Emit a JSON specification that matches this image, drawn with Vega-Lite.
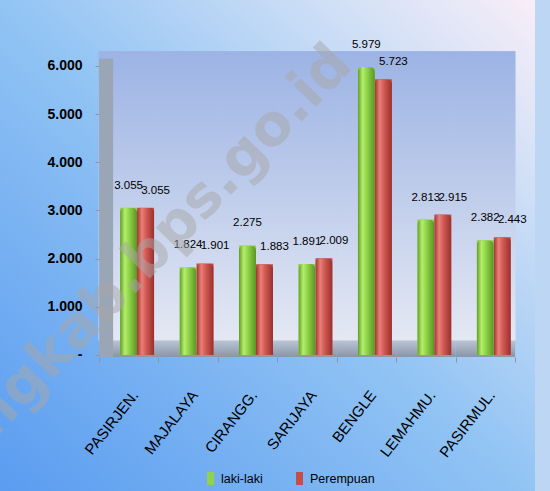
{
  "$schema": "https://vega.github.io/schema/vega-lite/v6.json",
  "width": 535,
  "height": 491,
  "autosize": "none",
  "padding": {"left": 0, "top": 0, "right": 15, "bottom": 0},
  "background": "#bcd6f4",
  "view": {
    "stroke": null,
    "fill": {"gradient": "linear", "x1": 0, "y1": 1, "x2": 1, "y2": 0,
      "stops": [
        {"offset": 0, "color": "#5a9cf0"},
        {"offset": 0.5, "color": "#92c4f4"},
        {"offset": 0.8, "color": "#cfdff6"},
        {"offset": 1, "color": "#f8eef8"}
      ]}
  },
  "config": {
    "locale": {"number": {"decimal": ",", "thousands": ".", "grouping": [3], "currency": ["", ""]}},
    "axis": {"labelColor": "#000000", "titleColor": "#000000"}
  },
  "data": {
    "values": [
      {"kec": "PASIRJEN.", "sex": "laki-laki", "v": 3055},
      {"kec": "PASIRJEN.", "sex": "Perempuan", "v": 3055},
      {"kec": "MAJALAYA", "sex": "laki-laki", "v": 1824},
      {"kec": "MAJALAYA", "sex": "Perempuan", "v": 1901},
      {"kec": "CIRANGG.", "sex": "laki-laki", "v": 2275},
      {"kec": "CIRANGG.", "sex": "Perempuan", "v": 1883},
      {"kec": "SARIJAYA", "sex": "laki-laki", "v": 1891},
      {"kec": "SARIJAYA", "sex": "Perempuan", "v": 2009},
      {"kec": "BENGLE", "sex": "laki-laki", "v": 5979},
      {"kec": "BENGLE", "sex": "Perempuan", "v": 5723},
      {"kec": "LEMAHMU.", "sex": "laki-laki", "v": 2813},
      {"kec": "LEMAHMU.", "sex": "Perempuan", "v": 2915},
      {"kec": "PASIRMUL.", "sex": "laki-laki", "v": 2382},
      {"kec": "PASIRMUL.", "sex": "Perempuan", "v": 2443}
    ]
  },
  "encoding": {
    "x": {
      "field": "kec", "type": "nominal", "sort": null,
      "scale": {
        "domain": ["PASIRJEN.", "MAJALAYA", "CIRANGG.", "SARIJAYA", "BENGLE", "LEMAHMU.", "PASIRMUL."],
        "paddingInner": 0, "paddingOuter": 1, "align": 0.8326
      },
      "axis": {
        "title": null, "offset": -134, "domain": false, "tickBand": "extent",
        "tickSize": 5, "tickColor": "#8c96a4", "labelAngle": -52,
        "labelAlign": "right", "labelBaseline": "middle", "labelPadding": 30,
        "labelOffset": 6, "labelFont": "Liberation Sans", "labelFontSize": 15,
        "zindex": 1
      }
    },
    "y": {
      "field": "v", "type": "quantitative",
      "scale": {"domain": [-2823.5, 7370], "nice": false, "zero": false},
      "axis": {
        "title": null, "offset": -99, "domain": false, "grid": false,
        "values": [0, 1000, 2000, 3000, 4000, 5000, 6000],
        "format": ",.0f",
        "labelExpr": "datum.value == 0 ? '-' : datum.label",
        "tickSize": 4, "tickColor": "#8c96a4", "labelPadding": 13,
        "labelFont": "Liberation Sans", "labelFontSize": 14, "labelFontWeight": "bold",
        "zindex": 1
      }
    }
  },
  "layer": [
    {
      "transform": [{"filter": "datum.sex == 'laki-laki'"}],
      "mark": {"type": "rect", "strokeWidth": 0.8,
        "color": {"gradient": "linear", "x1": 0, "y1": 0, "x2": 0, "y2": 1,
          "stops": [{"offset": 0, "color": "#9cb3e4"}, {"offset": 1, "color": "#e4e8f3"}]},
        "stroke": {"gradient": "linear", "x1": 0, "y1": 0, "x2": 0, "y2": 1,
          "stops": [{"offset": 0, "color": "#9cb3e4"}, {"offset": 1, "color": "#e4e8f3"}]}},
      "encoding": {
        "y": {"datum": 300, "type": "quantitative", "axis": {"title": null}},
        "y2": {"datum": 6300}
      }
    },
    {
      "transform": [{"filter": "datum.sex == 'laki-laki'"}],
      "mark": {"type": "rect", "color": {"gradient": "linear", "x1": 0, "y1": 0, "x2": 0, "y2": 1,
        "stops": [{"offset": 0, "color": "#bac4d4"}, {"offset": 1, "color": "#8995a8"}]}},
      "encoding": {
        "y": {"datum": -42, "type": "quantitative", "axis": {"title": null}},
        "y2": {"datum": 300}
      }
    },
    {
      "transform": [{"filter": "datum.kec == 'PASIRJEN.' && datum.sex == 'laki-laki'"}],
      "mark": {"type": "rule", "strokeWidth": 14, "color": "#9aa5b6"},
      "encoding": {
        "x": {"datum": "PASIRJEN.", "type": "nominal", "bandPosition": 0.12, "axis": {"title": null}},
        "y": {"datum": -42, "type": "quantitative", "axis": {"title": null}},
        "y2": {"datum": 6150}
      }
    },
    {
      "mark": {"type": "bar"},
      "encoding": {
        "xOffset": {"field": "sex", "type": "nominal",
          "scale": {"domain": ["laki-laki", "Perempuan"], "paddingInner": 0, "paddingOuter": 0.747, "align": 0.83}},
        "color": {
          "field": "sex", "type": "nominal",
          "scale": {"domain": ["laki-laki", "Perempuan"], "range": ["#92d050", "#c0504d"]},
          "legend": {
            "orient": "none", "legendX": 204, "legendY": 472, "direction": "horizontal",
            "title": null, "symbolType": "M-0.54,-1H0.54V1H-0.54Z", "symbolSize": 169,
            "symbolStrokeWidth": 0, "symbolOpacity": 1,
            "labelFont": "Liberation Sans",
            "labelFontSize": 12.5, "labelColor": "#000000", "labelOffset": 4,
            "columnPadding": 30, "padding": 0
          }
        }
      }
    },
    {
      "transform": [{"filter": "datum.sex == 'laki-laki'"}],
      "mark": {"type": "bar", "cornerRadiusTopLeft": 5, "cornerRadiusTopRight": 5,
        "color": {"gradient": "linear", "x1": 0, "y1": 0, "x2": 1, "y2": 0,
          "stops": [
            {"offset": 0, "color": "#5e9c25"},
            {"offset": 0.28, "color": "#b4ee6c"},
            {"offset": 0.55, "color": "#8ed146"},
            {"offset": 1, "color": "#5a9424"}
          ]}},
      "encoding": {
        "xOffset": {"field": "sex", "type": "nominal"}
      }
    },
    {
      "transform": [{"filter": "datum.sex == 'Perempuan'"}],
      "mark": {"type": "bar", "cornerRadiusTopLeft": 5, "cornerRadiusTopRight": 5,
        "color": {"gradient": "linear", "x1": 0, "y1": 0, "x2": 1, "y2": 0,
          "stops": [
            {"offset": 0, "color": "#a0322f"},
            {"offset": 0.28, "color": "#ea7f78"},
            {"offset": 0.55, "color": "#d05853"},
            {"offset": 1, "color": "#98302c"}
          ]}},
      "encoding": {
        "xOffset": {"field": "sex", "type": "nominal"}
      }
    },
    {
      "transform": [{"filter": "datum.sex == 'laki-laki'"}],
      "mark": {"type": "text", "dy": -22, "color": "#000000",
        "font": "Liberation Sans", "fontSize": 11.5},
      "encoding": {
        "xOffset": {"field": "sex", "type": "nominal"},
        "text": {"field": "v", "type": "quantitative", "format": ",.0f"}
      }
    },
    {
      "transform": [{"filter": "datum.sex == 'Perempuan'"}],
      "mark": {"type": "text", "dy": -17, "dx": 10, "color": "#000000",
        "font": "Liberation Sans", "fontSize": 11.5},
      "encoding": {
        "xOffset": {"field": "sex", "type": "nominal"},
        "text": {"field": "v", "type": "quantitative", "format": ",.0f"}
      }
    },
    {
      "transform": [{"filter": "datum.kec == 'SARIJAYA' && datum.sex == 'laki-laki'"}],
      "mark": {"type": "text", "align": "right", "baseline": "middle", "angle": -46,
        "font": "DejaVu Sans", "fontWeight": "bold", "fontSize": 57,
        "color": "#a8a8a8", "opacity": 0.5},
      "encoding": {
        "x": {"datum": "BENGLE", "type": "nominal", "bandPosition": 0.09, "axis": {"title": null}},
        "y": {"datum": 6228, "type": "quantitative", "axis": {"title": null}},
        "text": {"value": "bandungkab.bps.go.id"}
      }
    }
  ]
}
